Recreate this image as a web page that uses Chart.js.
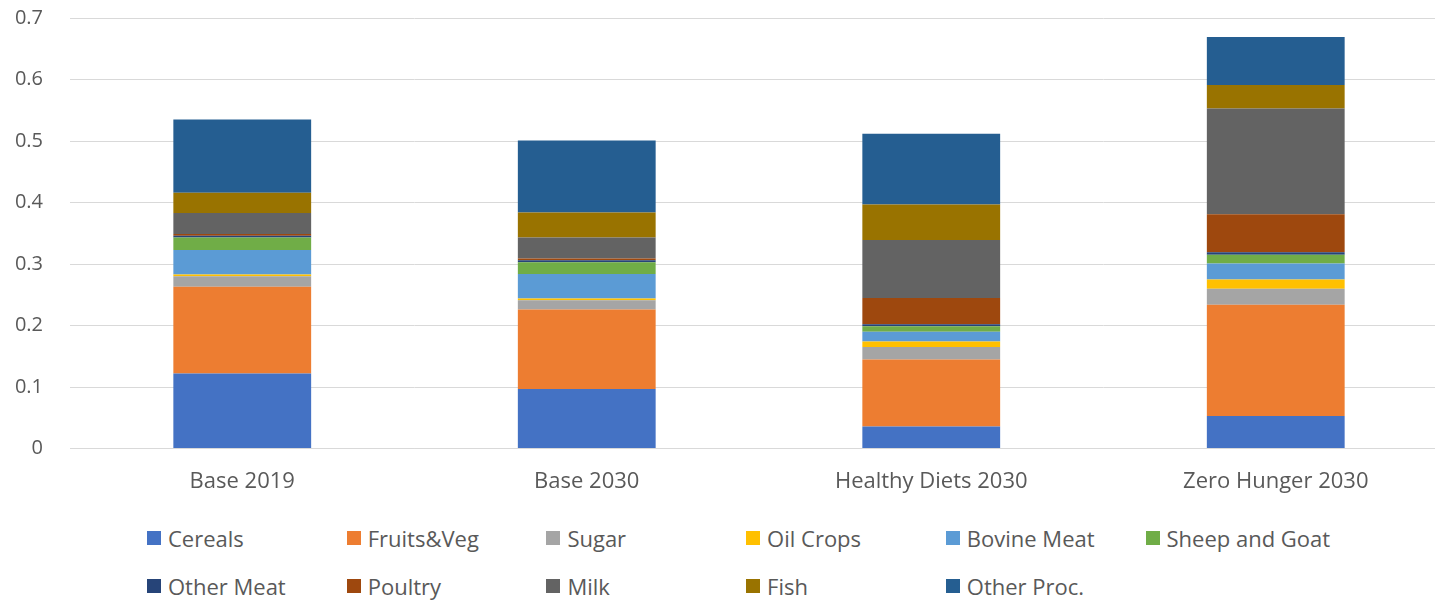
<!DOCTYPE html>
<html>
<head>
<meta charset="utf-8">
<script src="https://cdn.jsdelivr.net/npm/chart.js@4/dist/chart.umd.min.js"></script>
<style>
  html, body { margin: 0; padding: 0; background: #fff; overflow: hidden; width: 1435px; height: 600px; }
  #wrap { position: absolute; left: 0; top: -21px; width: 1450px; height: 536px; }
  #legend { position: absolute; left: 147px; top: 521px; width: 1300px; font-family: "Open Sans", Lato, sans-serif; font-size: 22px; color: #595959; }
  .row { position: relative; height: 48px; }
  .item { position: absolute; top: 0; display: flex; align-items: center; height: 34px; white-space: nowrap; }
  .box { width: 14px; height: 14px; margin-right: 7px; }
</style>
</head>
<body>
<div id="wrap"><canvas id="c" width="1450" height="536"></canvas></div>
<div id="legend"></div>
<script>
const categories = ["Base 2019", "Base 2030", "Healthy Diets 2030", "Zero Hunger 2030"];
const seriesNames = ["Cereals", "Fruits&Veg", "Sugar", "Oil Crops", "Bovine Meat", "Sheep and Goat", "Other Meat", "Poultry", "Milk", "Fish", "Other Proc."];
const seriesColors = ["#4472C4", "#ED7D31", "#A5A5A5", "#FFC000", "#5B9BD5", "#70AD47", "#264478", "#9E480E", "#636363", "#997300", "#255E91"];

const cereals      = [0.122, 0.097, 0.036, 0.053];
const fruitsVeg    = [0.141, 0.129, 0.109, 0.181];
const sugar        = [0.017, 0.015, 0.020, 0.026];
const oilCrops     = [0.003, 0.003, 0.009, 0.015];
const bovineMeat   = [0.040, 0.040, 0.016, 0.026];
const sheepGoat    = [0.020, 0.019, 0.009, 0.014];
const otherMeat    = [0.003, 0.003, 0.003, 0.004];
const poultry      = [0.003, 0.003, 0.043, 0.062];
const milk         = [0.034, 0.034, 0.094, 0.172];
const fish         = [0.033, 0.041, 0.058, 0.038];
const otherProc    = [0.119, 0.117, 0.115, 0.078];

const yTicks = [0, 0.1, 0.2, 0.3, 0.4, 0.5, 0.6, 0.7];

const seriesValues = [cereals, fruitsVeg, sugar, oilCrops, bovineMeat, sheepGoat, otherMeat, poultry, milk, fish, otherProc];

const FONT = '"Open Sans", Lato, sans-serif';

const datasets = seriesNames.map((name, i) => ({
  label: name,
  data: seriesValues[i],
  backgroundColor: seriesColors[i],
  borderWidth: 0,
  categoryPercentage: 1.0,
  barPercentage: 0.4
}));

new Chart(document.getElementById('c'), {
  type: 'bar',
  data: { labels: categories, datasets },
  options: {
    responsive: false,
    animation: false,
    layout: { padding: { top: 8, right: 2, bottom: 0, left: 0 } },
    plugins: { legend: { display: false }, tooltip: { enabled: false } },
    scales: {
      x: {
        stacked: true,
        grid: { display: false, drawTicks: false },
        border: { display: true, color: '#d9d9d9', width: 1 },
        ticks: { color: '#595959', font: { family: FONT, size: 22 }, padding: 20 }
      },
      y: {
        stacked: true,
        min: 0, max: 0.7,
        afterBuildTicks: (s) => { s.ticks = yTicks.map(v => ({ value: v })); },
        afterFit: (s) => { s.width = 70; },
        grid: { color: '#d9d9d9', lineWidth: 1, drawTicks: false },
        border: { display: false },
        ticks: {
          color: '#595959', font: { family: FONT, size: 20 }, padding: 27,
          callback: (v) => (v === 0 ? '0' : String(Math.round(v * 10) / 10))
        }
      }
    }
  }
});

// HTML legend
const order = [[0,1,2,3,4,5],[6,7,8,9,10]];
const leg = document.getElementById('legend');
order.forEach(r => {
  const row = document.createElement('div');
  row.className = 'row';
  r.forEach((idx, j) => {
    const it = document.createElement('div');
    it.className = 'item';
    it.style.left = (j * 199.7) + 'px';
    const b = document.createElement('span');
    b.className = 'box';
    b.style.background = seriesColors[idx];
    const t = document.createElement('span');
    t.textContent = seriesNames[idx];
    it.appendChild(b); it.appendChild(t);
    row.appendChild(it);
  });
  leg.appendChild(row);
});
</script>
</body>
</html>
